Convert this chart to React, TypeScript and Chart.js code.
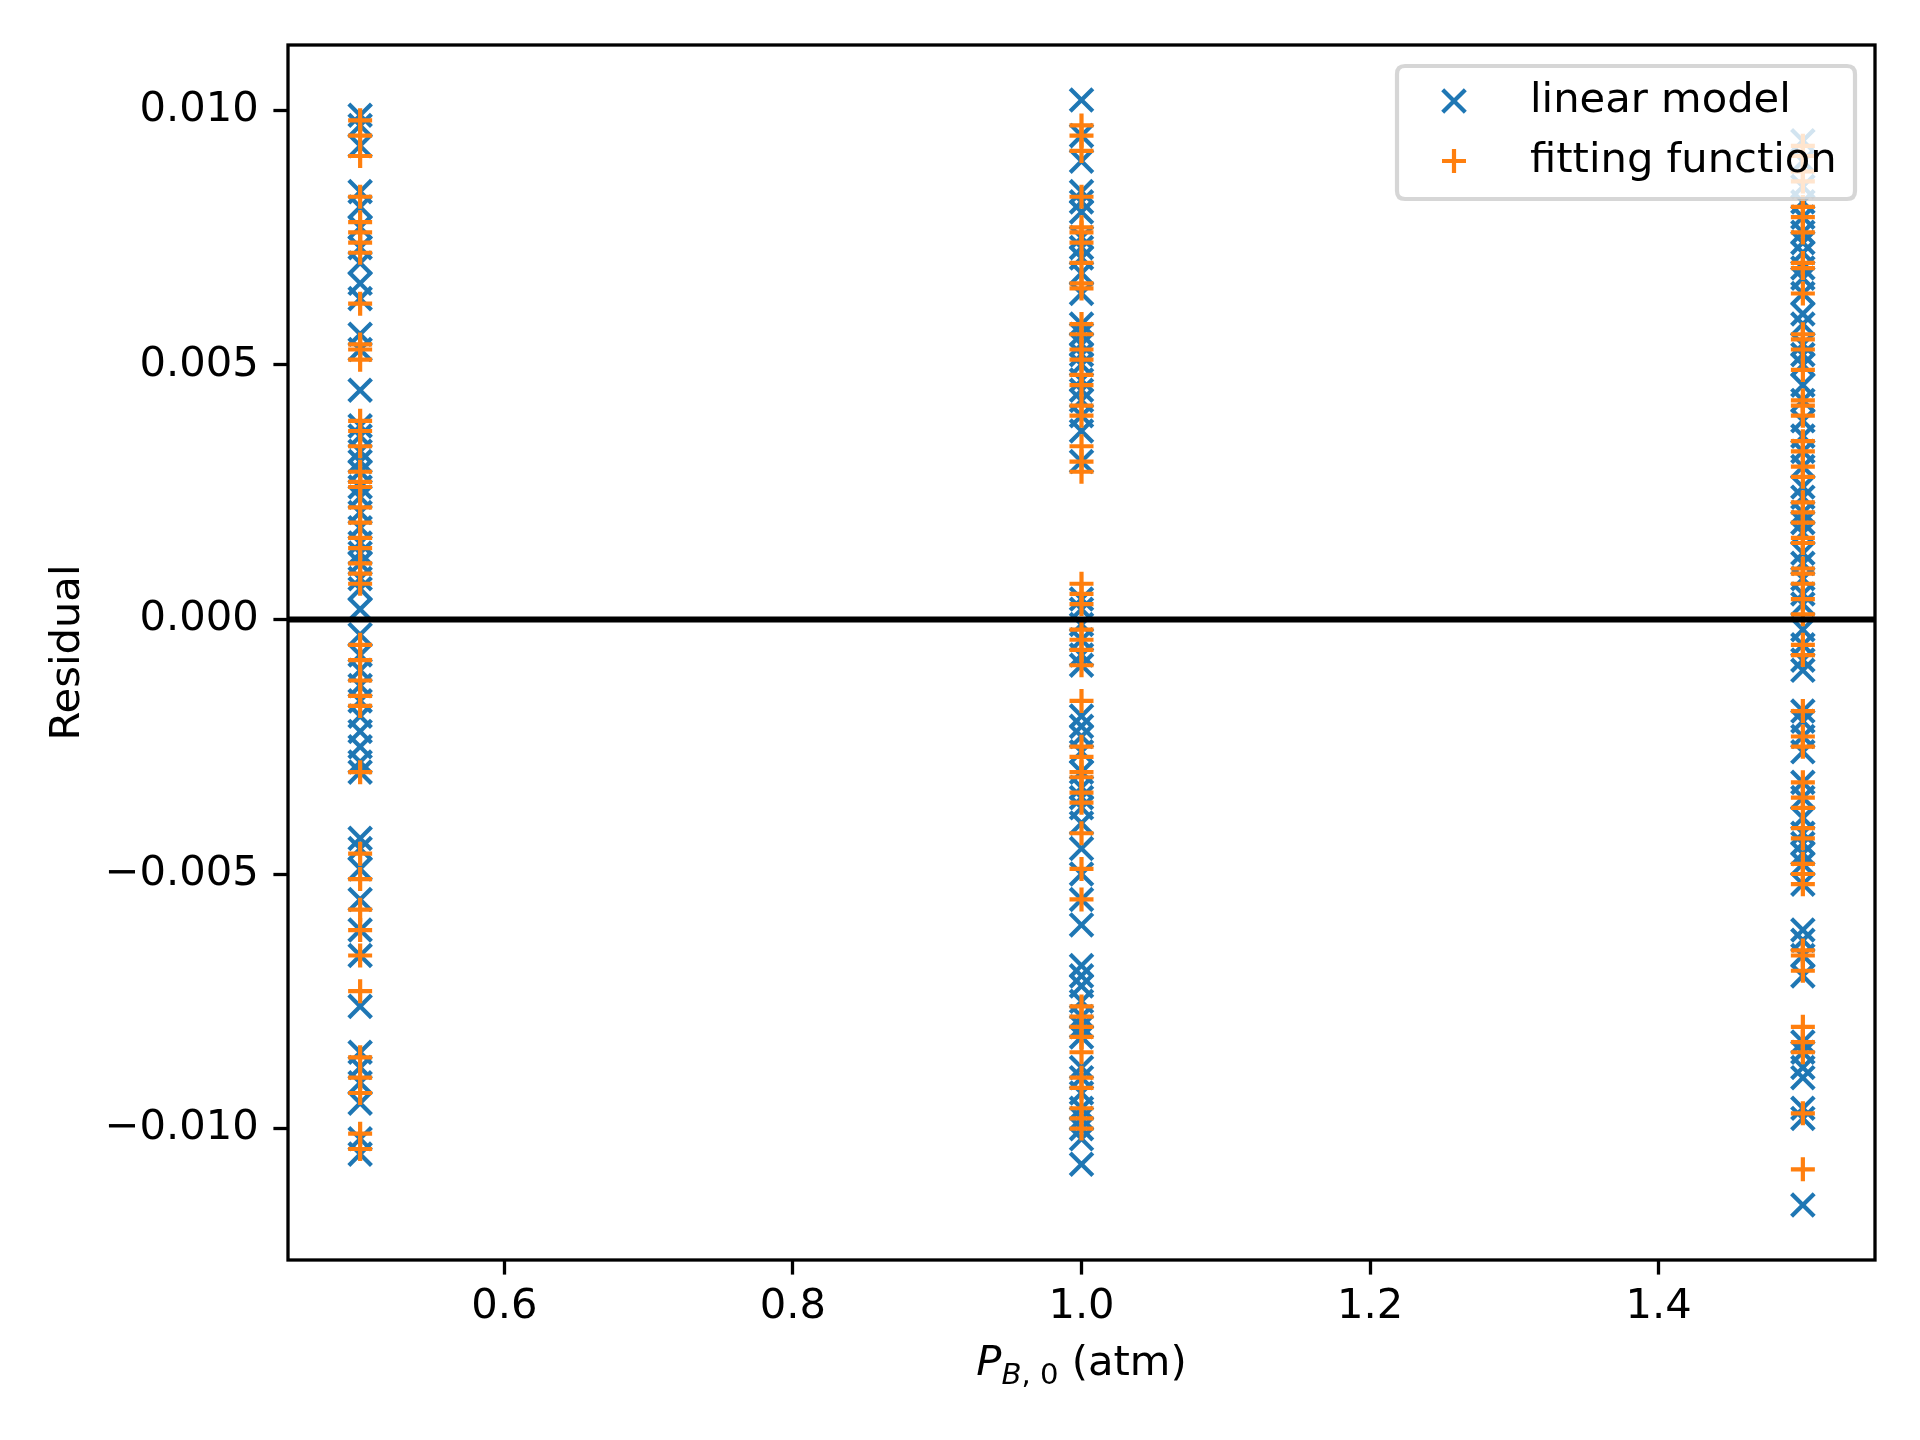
import React, { useEffect, useRef } from 'react';
import { Chart, registerables } from 'chart.js';

Chart.register(...registerables);

// ---- data ----
const pressures = [0.5, 1.0, 1.5];

const linearAt05 = [0.0099, 0.0097, 0.0093, 0.0084, 0.0081, 0.0077, 0.0073, 0.0070, 0.0066, 0.0063, 0.0056, 0.0053, 0.0045, 0.0038, 0.0036, 0.0033, 0.0031, 0.0029, 0.0026, 0.0024, 0.0021, 0.0018, 0.0015, 0.0013, 0.0011, 0.0008, 0.0006, 0.0002, -0.0003, -0.0007, -0.0010, -0.0013, -0.0016, -0.0019, -0.0022, -0.0025, -0.0028, -0.0030, -0.0043, -0.0045, -0.0049, -0.0055, -0.0061, -0.0066, -0.0076, -0.0085, -0.0088, -0.0091, -0.0095, -0.0102, -0.0105];
const fittingAt05 = [0.0098, 0.0095, 0.0091, 0.0083, 0.0078, 0.0076, 0.0074, 0.0072, 0.0062, 0.0054, 0.0053, 0.0051, 0.0039, 0.0037, 0.0034, 0.0029, 0.0027, 0.0026, 0.0022, 0.0019, 0.0016, 0.0014, 0.0011, 0.0009, 0.0007, -0.0005, -0.0008, -0.0012, -0.0015, -0.0017, -0.0030, -0.0046, -0.0051, -0.0057, -0.0061, -0.0066, -0.0073, -0.0086, -0.0090, -0.0093, -0.0101, -0.0104];

const linearAt10 = [0.0102, 0.0095, 0.0090, 0.0084, 0.0082, 0.0080, 0.0075, 0.0073, 0.0071, 0.0068, 0.0064, 0.0058, 0.0056, 0.0054, 0.0052, 0.0050, 0.0047, 0.0045, 0.0043, 0.0040, 0.0037, 0.0031, 0.0004, 0.0002, -0.0001, -0.0004, -0.0007, -0.0009, -0.0019, -0.0021, -0.0023, -0.0026, -0.0030, -0.0033, -0.0035, -0.0037, -0.0040, -0.0045, -0.0050, -0.0055, -0.0060, -0.0068, -0.0070, -0.0072, -0.0075, -0.0078, -0.0080, -0.0082, -0.0088, -0.0090, -0.0093, -0.0096, -0.0098, -0.0100, -0.0102, -0.0107];
const fittingAt10 = [0.0097, 0.0095, 0.0092, 0.0083, 0.0077, 0.0076, 0.0074, 0.0070, 0.0066, 0.0065, 0.0058, 0.0056, 0.0053, 0.0051, 0.0048, 0.0046, 0.0042, 0.0040, 0.0034, 0.0031, 0.0029, 0.0007, 0.0005, 0.0003, -0.0002, -0.0004, -0.0006, -0.0009, -0.0016, -0.0025, -0.0027, -0.0030, -0.0031, -0.0034, -0.0036, -0.0042, -0.0049, -0.0055, -0.0076, -0.0078, -0.0080, -0.0082, -0.0085, -0.0090, -0.0092, -0.0096, -0.0098, -0.0100];

const linearAt15 = [0.0094, 0.0090, 0.0085, 0.0082, 0.0079, 0.0076, 0.0074, 0.0072, 0.0069, 0.0067, 0.0064, 0.0060, 0.0058, 0.0054, 0.0052, 0.0050, 0.0046, 0.0043, 0.0039, 0.0036, 0.0033, 0.0030, 0.0026, 0.0024, 0.0021, 0.0019, 0.0017, 0.0013, 0.0011, 0.0008, 0.0005, 0.0003, -0.0002, -0.0005, -0.0008, -0.0010, -0.0018, -0.0020, -0.0023, -0.0026, -0.0032, -0.0035, -0.0039, -0.0042, -0.0044, -0.0046, -0.0048, -0.0052, -0.0061, -0.0063, -0.0066, -0.0070, -0.0083, -0.0085, -0.0088, -0.0090, -0.0096, -0.0098, -0.0115];
const fittingAt15 = [0.0093, 0.0091, 0.0088, 0.0086, 0.0081, 0.0079, 0.0076, 0.0070, 0.0069, 0.0064, 0.0056, 0.0055, 0.0053, 0.0049, 0.0043, 0.0042, 0.0040, 0.0035, 0.0033, 0.0030, 0.0028, 0.0023, 0.0021, 0.0019, 0.0016, 0.0015, 0.0010, 0.0009, 0.0007, 0.0004, 0.0001, -0.0005, -0.0007, -0.0018, -0.0023, -0.0025, -0.0032, -0.0035, -0.0037, -0.0041, -0.0043, -0.0048, -0.0050, -0.0052, -0.0065, -0.0066, -0.0069, -0.0080, -0.0083, -0.0085, -0.0097, -0.0108];

const xTicks = [0.6, 0.8, 1.0, 1.2, 1.4];
const yTicks = [-0.01, -0.005, 0, 0.005, 0.01];
const xRange = [0.45, 1.55];
const yRange = [-0.01258, 0.01128];
const seriesLabels = ['linear model', 'fitting function'];

const BLUE = '#1f77b4';
const ORANGE = '#ff7f0e';
const FONT = 'DejaVu Sans';
const FS = 41.67;

const toPoints = (x: number, ys: number[]) => ys.map((y) => ({ x, y }));

const linearPoints = [
  ...toPoints(pressures[0], linearAt05),
  ...toPoints(pressures[1], linearAt10),
  ...toPoints(pressures[2], linearAt15),
];
const fittingPoints = [
  ...toPoints(pressures[0], fittingAt05),
  ...toPoints(pressures[1], fittingAt10),
  ...toPoints(pressures[2], fittingAt15),
];

const decorPlugin = {
  id: 'decor',
  afterDatasetsDraw(chart: any) {
    const { ctx, chartArea } = chart;
    const { left, top, right, bottom } = chartArea;
    ctx.save();
    // frame (spines)
    ctx.strokeStyle = '#000';
    ctx.lineWidth = 3.3;
    ctx.strokeRect(left, top, right - left, bottom - top);

    // legend
    const bw = 458, bh = 133;
    const bx = right - 20 - bw, by = top + 21;
    const r = 8;
    ctx.beginPath();
    ctx.moveTo(bx + r, by);
    ctx.lineTo(bx + bw - r, by);
    ctx.quadraticCurveTo(bx + bw, by, bx + bw, by + r);
    ctx.lineTo(bx + bw, by + bh - r);
    ctx.quadraticCurveTo(bx + bw, by + bh, bx + bw - r, by + bh);
    ctx.lineTo(bx + r, by + bh);
    ctx.quadraticCurveTo(bx, by + bh, bx, by + bh - r);
    ctx.lineTo(bx, by + r);
    ctx.quadraticCurveTo(bx, by, bx + r, by);
    ctx.closePath();
    ctx.fillStyle = 'rgba(255,255,255,0.8)';
    ctx.fill();
    ctx.strokeStyle = 'rgba(204,204,204,0.8)';
    ctx.lineWidth = 4.2;
    ctx.stroke();

    const mx = bx + 57;
    const tx = bx + 133;
    const rows = [by + 35, by + 95];
    // blue x
    ctx.lineWidth = 4.2;
    ctx.strokeStyle = BLUE;
    const d = 11.3;
    ctx.beginPath();
    ctx.moveTo(mx - d, rows[0] - d); ctx.lineTo(mx + d, rows[0] + d);
    ctx.moveTo(mx + d, rows[0] - d); ctx.lineTo(mx - d, rows[0] + d);
    ctx.stroke();
    // orange +
    ctx.strokeStyle = ORANGE;
    const p = 12;
    ctx.beginPath();
    ctx.moveTo(mx - p, rows[1]); ctx.lineTo(mx + p, rows[1]);
    ctx.moveTo(mx, rows[1] - p); ctx.lineTo(mx, rows[1] + p);
    ctx.stroke();

    ctx.fillStyle = '#000';
    ctx.font = `${FS}px "${FONT}"`;
    ctx.textBaseline = 'middle';
    ctx.textAlign = 'left';
    ctx.fillText(seriesLabels[0], tx, rows[0]);
    ctx.fillText(seriesLabels[1], tx, rows[1]);
    ctx.restore();
  },
  afterDraw(chart: any) {
    const { ctx, chartArea } = chart;
    const xs = chart.scales.x;
    const cx = (xs.left + xs.right) / 2;
    const base = chartArea.bottom + 115;
    ctx.save();
    ctx.fillStyle = '#000';
    ctx.textBaseline = 'alphabetic';
    ctx.textAlign = 'left';
    const parts = [
      { t: 'P', f: `italic ${FS}px "${FONT}"`, dy: 0 },
      { t: 'B', f: `italic ${FS * 0.7}px "${FONT}"`, dy: 9 },
      { t: ', ', f: `${FS * 0.7}px "${FONT}"`, dy: 9 },
      { t: '0', f: `${FS * 0.7}px "${FONT}"`, dy: 9 },
      { t: ' (atm)', f: `${FS}px "${FONT}"`, dy: 0 },
    ];
    let total = 0;
    const widths = parts.map((pt) => {
      ctx.font = pt.f;
      const w = ctx.measureText(pt.t).width;
      total += w;
      return w;
    });
    let x = cx - total / 2;
    parts.forEach((pt, i) => {
      ctx.font = pt.f;
      ctx.fillText(pt.t, x, base + pt.dy);
      x += widths[i];
    });
    ctx.restore();
  },
};

const fmtY = (v: number) => {
  const s = Math.abs(v) < 1e-12 ? '0.000' : v.toFixed(3);
  return s.replace('-', '\u2212');
};

export default function App() {
  const ref = useRef<HTMLCanvasElement>(null);
  useEffect(() => {
    document.body.style.margin = '0';
    const tickFont = { family: FONT, size: FS };
    const chart = new Chart(ref.current as HTMLCanvasElement, {
      type: 'scatter',
      data: {
        datasets: [
          {
            label: seriesLabels[0],
            data: linearPoints,
            pointStyle: 'crossRot',
            pointRadius: 16,
            pointHoverRadius: 16,
            borderColor: BLUE,
            backgroundColor: BLUE,
            borderWidth: 4.2,
            order: 2,
          } as any,
          {
            label: seriesLabels[1],
            data: fittingPoints,
            pointStyle: 'cross',
            pointRadius: 12,
            pointHoverRadius: 12,
            borderColor: ORANGE,
            backgroundColor: ORANGE,
            borderWidth: 4.2,
            order: 1,
          } as any,
          {
            type: 'line',
            label: 'zero',
            data: [
              { x: xRange[0], y: 0 },
              { x: xRange[1], y: 0 },
            ],
            borderColor: '#000',
            borderWidth: 6,
            pointRadius: 0,
            showLine: true,
            order: 0,
          } as any,
        ],
      },
      options: {
        responsive: false,
        animation: false,
        devicePixelRatio: 1,
        layout: { padding: { left: 0, top: 45, right: 45, bottom: 0 } },
        plugins: {
          legend: { display: false },
          tooltip: { enabled: false },
        },
        scales: {
          x: {
            type: 'linear',
            min: xRange[0],
            max: xRange[1],
            afterBuildTicks: (s: any) => {
              s.ticks = xTicks.map((v) => ({ value: v }));
            },
            afterFit: (s: any) => {
              s.height = 180;
            },
            ticks: {
              callback: (v: any) => Number(v).toFixed(1),
              font: tickFont,
              color: '#000',
              padding: 8,
              maxRotation: 0,
              autoSkip: false,
            },
            grid: {
              display: true,
              drawOnChartArea: false,
              drawTicks: true,
              tickLength: 14.6,
              tickWidth: 3.3,
              tickColor: '#000',
              color: '#000',
            },
            border: { display: false },
          },
          y: {
            type: 'linear',
            min: yRange[0],
            max: yRange[1],
            afterBuildTicks: (s: any) => {
              s.ticks = yTicks.map((v) => ({ value: v }));
            },
            afterFit: (s: any) => {
              s.width = 288;
            },
            ticks: {
              callback: (v: any) => fmtY(Number(v)),
              font: tickFont,
              color: '#000',
              padding: 14.6,
              autoSkip: false,
            },
            grid: {
              display: true,
              drawOnChartArea: false,
              drawTicks: true,
              tickLength: 14.6,
              tickWidth: 3.3,
              tickColor: '#000',
              color: '#000',
            },
            border: { display: false },
            title: {
              display: true,
              text: 'Residual',
              font: { family: FONT, size: FS },
              color: '#000',
              padding: { top: 43, bottom: 0 },
            },
          },
        },
      },
      plugins: [decorPlugin],
    });
    return () => chart.destroy();
  }, []);
  return (
    <div style={{ width: 1920, height: 1440, background: '#fff' }}>
      <canvas ref={ref} width={1920} height={1440} style={{ display: 'block', width: 1920, height: 1440 }} />
    </div>
  );
}
